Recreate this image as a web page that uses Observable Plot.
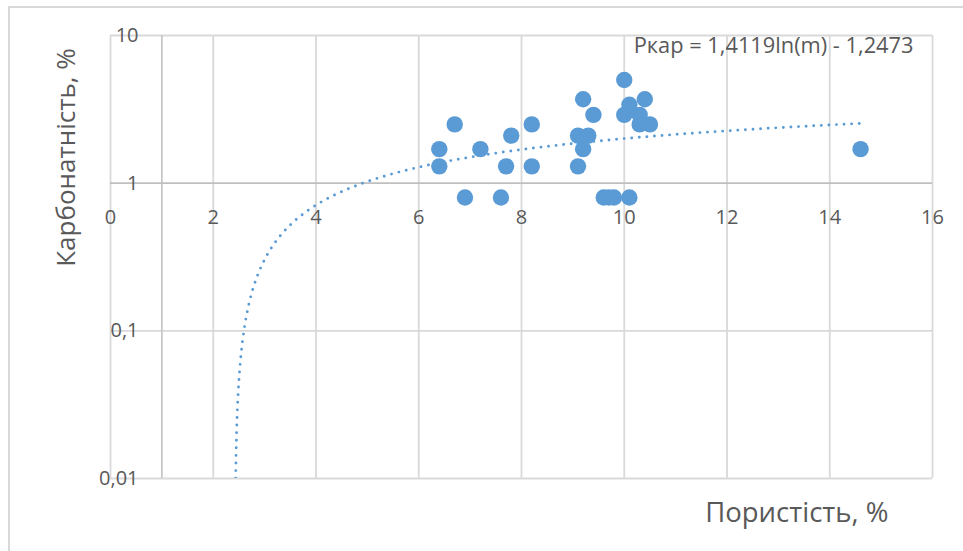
<!DOCTYPE html>
<html>
<head>
<meta charset="utf-8">
<script src="https://cdn.jsdelivr.net/npm/d3@7"></script>
<script src="https://cdn.jsdelivr.net/npm/@observablehq/plot@0.6"></script>
<style>
  html, body { margin: 0; padding: 0; background: #fff; }
  #wrap { position: relative; width: 963px; height: 551px; overflow: hidden; }
  #border { position: absolute; left: 8px; top: 6px; width: 1000px; height: 600px;
            border-left: 2px solid #d9d9d9; border-top: 2px solid #d9d9d9; pointer-events: none; }
</style>
</head>
<body>
<div id="wrap"><div id="border"></div></div>
<script>
// Data
const porosity  = [6.4, 6.4, 6.7, 6.9, 7.2, 7.6, 7.7, 7.8, 8.2, 8.2, 9.1, 9.1, 9.2, 9.2, 9.3, 9.4, 9.6, 9.7, 9.8, 10.0, 10.0, 10.1, 10.1, 10.3, 10.3, 10.4, 10.5, 14.6];
const carbonate = [1.7, 1.3, 2.5, 0.8, 1.7, 0.8, 1.3, 2.1, 2.5, 1.3, 2.1, 1.3, 3.7, 1.7, 2.1, 2.9, 0.8, 0.8, 0.8, 5.0, 2.9, 3.4, 0.8, 2.9, 2.5, 3.7, 2.5, 1.7];
const xTicks = [0, 2, 4, 6, 8, 10, 12, 14, 16];
const yTicks = [0.01, 0.1, 1, 10];
const xTitle = "Пористість, %";
const yTitle = "Карбонатність, %";
const equation = "Ркар = 1,4119ln(m) - 1,2473";
// Trendline coefficients shown on the chart: y = a·ln(x) + b
const trendA = 1.4119, trendB = -1.2473;
const trendXmax = 14.6;

const points = porosity.map((x, i) => ({x, y: carbonate[i]}));
const x0 = Math.exp((0.01 - trendB) / trendA);
const trend = d3.range(0, 401).map(i => {
  const t = i / 400;
  const x = x0 + (trendXmax - x0) * t * t;
  return {x, y: trendA * Math.log(x) + trendB};
}).filter(d => d.y >= 0.01);

const fmt = d => String(d).replace(".", ",");
const font = "'Open Sans', sans-serif";
const grey = "#595959";

const chart = Plot.plot({
  width: 963,
  height: 551,
  marginLeft: 110,
  marginRight: 31,
  marginTop: 35,
  marginBottom: 73,
  style: {fontFamily: font, background: "transparent", overflow: "visible"},
  x: {domain: [0, 16], axis: null},
  y: {type: "log", domain: [0.01, 10], axis: null},
  marks: [
    Plot.ruleX([0, ...xTicks.filter(d => d > 0)], {stroke: "#d9d9d9", strokeWidth: 1.8}),
    Plot.ruleY(yTicks.filter(d => d !== 1), {stroke: "#d9d9d9", strokeWidth: 1.8}),
    Plot.ruleX([1], {stroke: "#c8c8c8", strokeWidth: 1.8}),
    Plot.ruleY([1], {stroke: "#bfbfbf", strokeWidth: 1.8}),
    Plot.line(trend, {x: "x", y: "y", stroke: "#5b9bd5", strokeWidth: 2.9,
      strokeDasharray: "0 7.6", strokeLinecap: "round", clip: true}),
    Plot.dot(points, {x: "x", y: "y", r: 8.2, fill: "#5b9bd5", stroke: "none"}),
    Plot.text(yTicks, {y: d => d, frameAnchor: "left", dx: 28, textAnchor: "end",
      text: fmt, fontSize: 20, fill: grey}),
    Plot.text(xTicks, {x: d => d, y: 1, dy: 34, textAnchor: "middle",
      text: fmt, fontSize: 20, fill: grey}),
    Plot.text([equation], {frameAnchor: "top-right", dx: -19, dy: 11, textAnchor: "end",
      lineAnchor: "middle", text: d => d, fontSize: 21.8, fill: grey}),
    Plot.text([yTitle], {frameAnchor: "top-left", dx: -44, dy: 122, rotate: -90,
      textAnchor: "middle", lineAnchor: "middle", text: d => d, fontSize: 26, fill: grey}),
    Plot.text([xTitle], {frameAnchor: "bottom-right", dx: -44, dy: 35, textAnchor: "end",
      lineAnchor: "middle", text: d => d, fontSize: 27.5, fill: grey})
  ]
});
chart.style.position = "absolute";
chart.style.left = "0px";
chart.style.top = "0px";
document.getElementById("wrap").appendChild(chart);
</script>
</body>
</html>
